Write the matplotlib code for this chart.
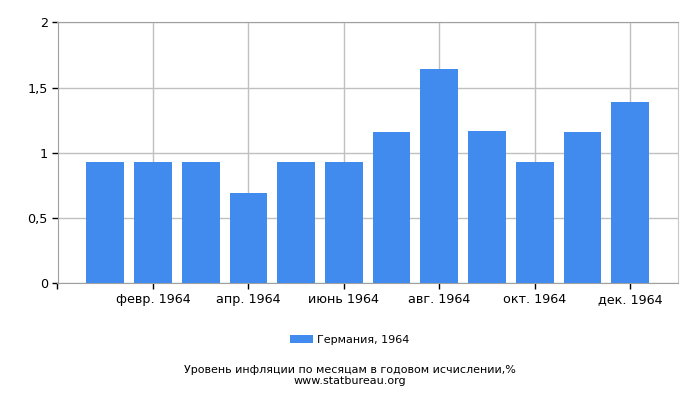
import matplotlib
matplotlib.use("Agg")
import matplotlib.pyplot as plt
import numpy as np

months = ['янв. 1964', 'февр. 1964', 'март 1964', 'апр. 1964', 'май 1964', 'июнь 1964',
          'июль 1964', 'авг. 1964', 'сент. 1964', 'окт. 1964', 'нояб. 1964', 'дек. 1964']
values = [0.93, 0.93, 0.93, 0.69, 0.93, 0.93, 1.16, 1.64, 1.17, 0.93, 1.16, 1.39]
series_name = 'Германия, 1964'
title = 'Уровень инфляции по месяцам в годовом исчислении,%'
source = 'www.statbureau.org'

plt.rcParams['font.family'] = ['DejaVu Sans']

fig = plt.figure(figsize=(7, 4), dpi=100)
ax = fig.add_axes([57.5 / 700, 1 - 283.3 / 400, (678 - 57.5) / 700, (283.3 - 22.3) / 400])

x = np.arange(len(values))
ax.bar(x, values, width=0.79, color='#428bee', zorder=3, label=series_name)

ax.set_xlim(-1, 12)
ax.set_ylim(0, 2)
ax.set_yticks([0, 0.5, 1, 1.5, 2])
ax.set_yticklabels(['0', '0,5', '1', '1,5', '2'], fontsize=9.2)
tick_pos = [-1] + list(x[1::2])
ax.set_xticks(tick_pos)
ax.set_xticklabels([''] + [months[i] for i in x[1::2]], fontsize=9.2)
ax.grid(True, color='#c0c0c0', linewidth=1, zorder=0)
ax.tick_params(axis='both', length=4, color='black', width=1, pad=3)

ax.spines['left'].set_color('#a0a0a0')
ax.spines['top'].set_color('#a0a0a0')
ax.spines['right'].set_color('#c8c8c8')
ax.spines['bottom'].set_color('#a0a0a0')

fig.legend(loc='center', bbox_to_anchor=(0.5, 1 - 340 / 400), frameon=False,
           fontsize=8, handlelength=2.0, handleheight=0.8, handletextpad=0.4)
fig.text(0.5, 1 - 370 / 400, title, ha='center', va='center', fontsize=8)
fig.text(0.5, 1 - 381 / 400, source, ha='center', va='center', fontsize=8)

fig.savefig('out.png', dpi=100)
